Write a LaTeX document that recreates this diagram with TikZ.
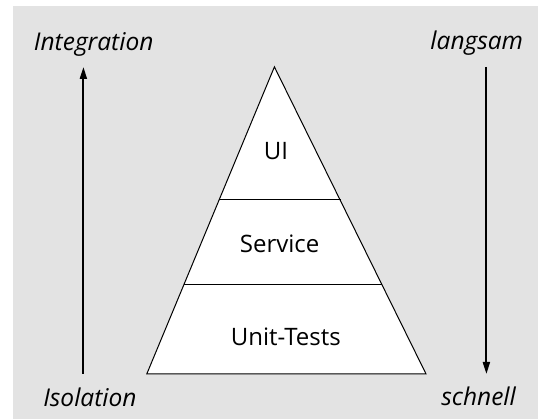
\documentclass[tikz,border=0pt]{standalone}
\usepackage{fontspec}
\setmainfont{Open Sans}
\usetikzlibrary{arrows.meta}
\begin{document}
\begin{tikzpicture}[x=1pt,y=-1pt,
  lbl/.style={font=\fontsize{24.5}{28}\selectfont\itshape, inner sep=0pt},
  layer/.style={font=\fontsize{24}{28}\selectfont, inner sep=0pt},
  axis/.style={line width=2pt, -{Triangle[length=12pt,width=7pt]}}]
  \useasboundingbox (0,0) rectangle (538,419);
  \fill[gray!22] (13,6) rectangle (538,419);
  % pyramid
  \coordinate (top) at (274.4,66.9);
  \coordinate (bl) at (146.8,373.9);
  \coordinate (br) at (426,373.9);
  \filldraw[fill=white, draw=black, line width=1pt, line join=miter] (top) -- (br) -- (bl) -- cycle;
  \coordinate (s1l) at (219.1,200);
  \coordinate (s1r) at (340.5,200);
  \coordinate (s2l) at (184.2,284.7);
  \coordinate (s2r) at (381.6,284.7);
  \draw[line width=1pt] (s1l) -- (s1r);
  \draw[line width=1.5pt] (s2l) -- (s2r);
  \node[layer] (ui) at (276,151) {UI};
  \node[layer] (svc) at (279.6,244) {Service};
  \node[layer] (unit) at (285.8,337) {Unit-Tests};
  % axes
  \node[lbl] (integ) at (93.7,44.6) {Integration};
  \node[lbl] (iso) at (89.9,397) {Isolation};
  \node[lbl] (slow) at (476.8,42.9) {langsam};
  \node[lbl] (fast) at (478.6,396) {schnell};
  \coordinate (la) at (83.4,374);
  \coordinate (lb) at (83.4,67);
  \coordinate (ra) at (486.4,67);
  \coordinate (rb) at (486.4,374);
  \draw[axis] (la) -- (lb);
  \draw[axis] (ra) -- (rb);
\end{tikzpicture}
\end{document}
